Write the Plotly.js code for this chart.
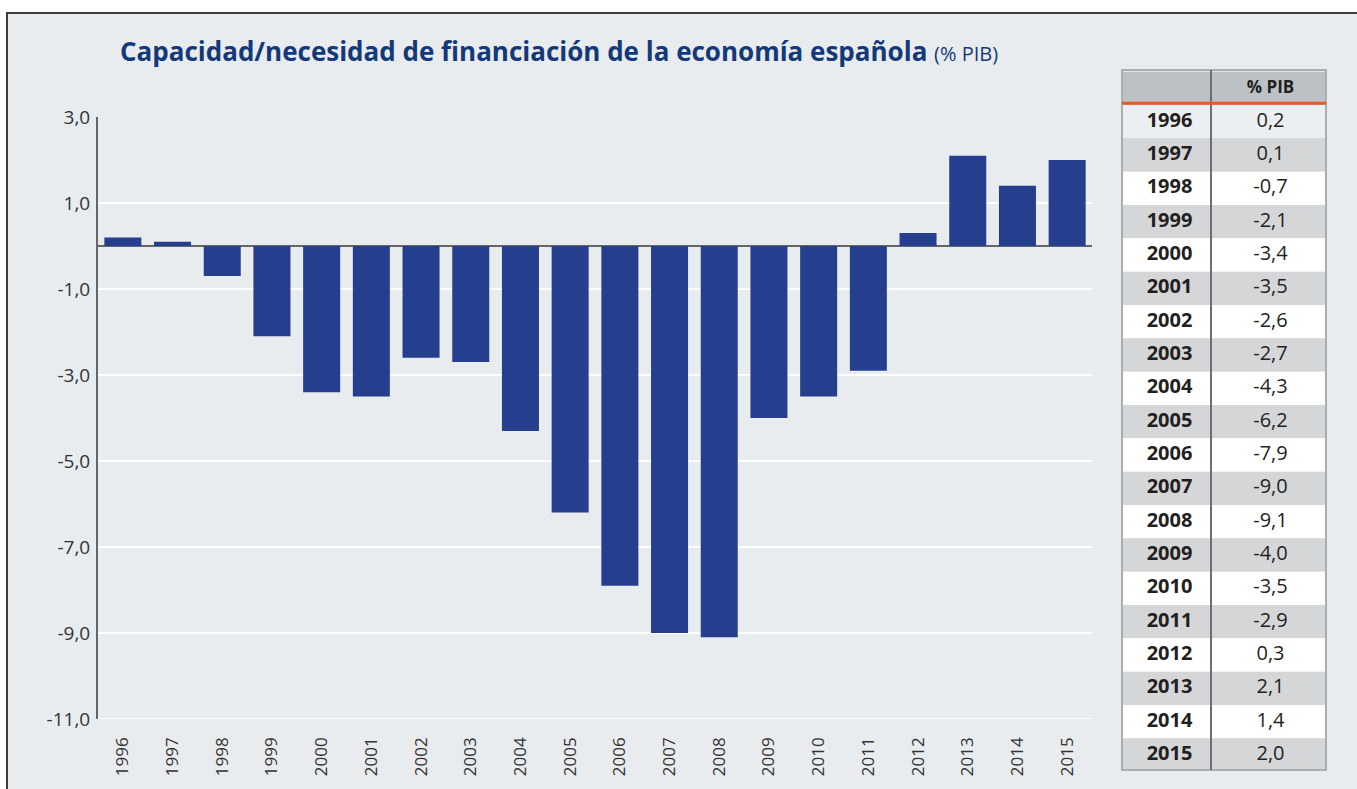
<!DOCTYPE html>
<html>
<head>
<meta charset="utf-8">
<script src="https://cdn.plot.ly/plotly-3.0.1.min.js"></script>
<style>
  html, body { margin: 0; padding: 0; background: #ffffff; width: 1357px; height: 789px; overflow: hidden; }
  #frame { position: absolute; left: 6px; top: 12px; width: 1351px; height: 777px;
           border-top: 2px solid #3c3c3c; border-left: 2px solid #3c3c3c; background: #e9ecee; }
  #chart { position: absolute; left: 0; top: 0; width: 1349px; height: 775px; }
</style>
</head>
<body>
<div id="frame"><div id="chart"></div></div>
<script>
const years = ['1996','1997','1998','1999','2000','2001','2002','2003','2004','2005',
               '2006','2007','2008','2009','2010','2011','2012','2013','2014','2015'];
const pctPIB = [0.2, 0.1, -0.7, -2.1, -3.4, -3.5, -2.6, -2.7, -4.3, -6.2,
                -7.9, -9.0, -9.1, -4.0, -3.5, -2.9, 0.3, 2.1, 1.4, 2.0];
const yTickVals = [3, 1, -1, -3, -5, -7, -9, -11];
const yTickLabels = ['3,0', '1,0', '-1,0', '-3,0', '-5,0', '-7,0', '-9,0', '-11,0'];
const titleMain = 'Capacidad/necesidad de financiación de la economía española';
const titleUnit = '(% PIB)';
const tableHeader = '% PIB';
const HDR = 'hdr';

const W = 1349, H = 775;
const ml = 90, mr = 31, mt = 56, mb = 19;
const pw = W - ml - mr, ph = H - mt - mb;
const px = x => (x - ml) / pw;
const py = y => (H - mb - y) / ph;

// bar plot area (chart-div pixels)
const aL = 90, aR = 1084, aT = 103, aB = 705;
// table geometry
const tL = 1114, tR = 1318, tT = 56, tB = 756, tDiv = 1203;
const col1Center = ((tDiv - tL) / 2 + 3) / (tR - tL);
const col2Center = ((tDiv - tL) + (tR - tDiv) / 2 + 2) / (tR - tL);
const rowH = (tB - tT) / (years.length + 1);

const fmt = v => v.toFixed(1).replace('.', ',');
const rowFills = pctPIB.map((v, i) => i === 0 ? '#eceff1' : (i % 2 === 1 ? '#d5d6d8' : '#ffffff'));

const bars = {
  type: 'bar',
  x: years,
  y: pctPIB,
  marker: { color: '#253f8e' },
  width: 0.745,
  hoverinfo: 'x+y'
};

// table: row backgrounds
const tableFill = {
  type: 'bar', orientation: 'h',
  xaxis: 'x2', yaxis: 'y2',
  y: [HDR].concat(years),
  x: [HDR].concat(years).map(() => 1),
  width: 1,
  marker: { color: ['#bcc1c6'].concat(rowFills), line: { width: 0 } },
  hoverinfo: 'skip'
};
const tableYears = {
  type: 'scatter', mode: 'text',
  xaxis: 'x2', yaxis: 'y2',
  y: years,
  x: years.map(() => col1Center),
  text: years.map(y => '<b>' + y + '</b>'),
  textposition: 'middle center',
  textfont: { family: 'Open Sans', size: 20, color: '#231f20' },
  hoverinfo: 'skip'
};
const tableValues = {
  type: 'scatter', mode: 'text',
  xaxis: 'x2', yaxis: 'y2',
  y: years,
  x: years.map(() => col2Center),
  text: pctPIB.map(fmt),
  textposition: 'middle center',
  textfont: { family: 'Open Sans', size: 20, color: '#231f20' },
  hoverinfo: 'skip'
};
const tableHead = {
  type: 'scatter', mode: 'text',
  xaxis: 'x2', yaxis: 'y2',
  y: [HDR],
  x: [col2Center],
  text: ['<b>' + tableHeader + '</b>'],
  textposition: 'middle center',
  textfont: { family: 'Open Sans', size: 17, color: '#231f20' },
  hoverinfo: 'skip'
};

const layout = {
  width: W, height: H,
  paper_bgcolor: '#e9ecee',
  plot_bgcolor: 'rgba(0,0,0,0)',
  margin: { l: ml, r: mr, t: mt, b: mb, pad: 0 },
  showlegend: false,
  barmode: 'overlay',
  font: { family: 'Open Sans', color: '#333333' },
  title: {
    text: '<b>' + titleMain + '</b> <span style="font-size:20px;font-weight:normal">' + titleUnit + '</span>',
    xref: 'container', yref: 'container',
    x: 112 / W, xanchor: 'left',
    y: 1 - 38 / H, yanchor: 'middle',
    font: { family: 'Open Sans', size: 26, color: '#14397a' }
  },
  xaxis: {
    type: 'category',
    domain: [px(aL), px(aR)],
    tickangle: -90,
    tickfont: { family: 'Open Sans', size: 17, color: '#333333' },
    showgrid: false,
    showline: false,
    zeroline: false,
    ticks: '',
    ticklabelstandoff: 14
  },
  yaxis: {
    domain: [py(aB), py(aT)],
    range: [-11.0, 3.0],
    tickvals: yTickVals,
    ticktext: yTickLabels,
    tickfont: { family: 'Open Sans', size: 19, color: '#333333' },
    showgrid: true,
    gridcolor: '#ffffff',
    gridwidth: 1.5,
    zeroline: true,
    zerolinecolor: '#666666',
    zerolinewidth: 2,
    showline: true,
    linecolor: '#666666',
    linewidth: 2,
    ticks: '',
    ticklabelstandoff: 2
  },
  xaxis2: {
    domain: [px(tL), px(tR)],
    range: [0, 1],
    anchor: 'y2',
    visible: false,
    fixedrange: true
  },
  yaxis2: {
    domain: [py(tB), py(tT)],
    type: 'category',
    categoryarray: [HDR].concat(years),
    categoryorder: 'array',
    range: [years.length + 0.45, -0.55],
    anchor: 'x2',
    visible: false,
    fixedrange: true
  },
  shapes: [
    { type: 'line', xref: 'x domain', yref: 'y', x0: 0, x1: 1, y0: -11, y1: -11,
      line: { color: '#ffffff', width: 1.5 }, layer: 'below' },
    { type: 'rect', xref: 'paper', yref: 'paper', x0: px(tL), x1: px(tR), y0: py(tB), y1: py(tT),
      line: { color: '#a9aeb3', width: 2 }, fillcolor: 'rgba(0,0,0,0)', layer: 'above' },
    { type: 'line', xref: 'paper', yref: 'paper', x0: px(tDiv), x1: px(tDiv), y0: py(tB), y1: py(tT),
      line: { color: '#6b6e72', width: 2 }, layer: 'above' },
    { type: 'line', xref: 'paper', yref: 'paper', x0: px(tL), x1: px(tR), y0: py(tT + rowH), y1: py(tT + rowH),
      line: { color: '#f05a22', width: 3 }, layer: 'above' }
  ]
};

Plotly.newPlot('chart', [bars, tableFill, tableYears, tableValues, tableHead], layout,
  { displayModeBar: false, staticPlot: true });
</script>
</body>
</html>
